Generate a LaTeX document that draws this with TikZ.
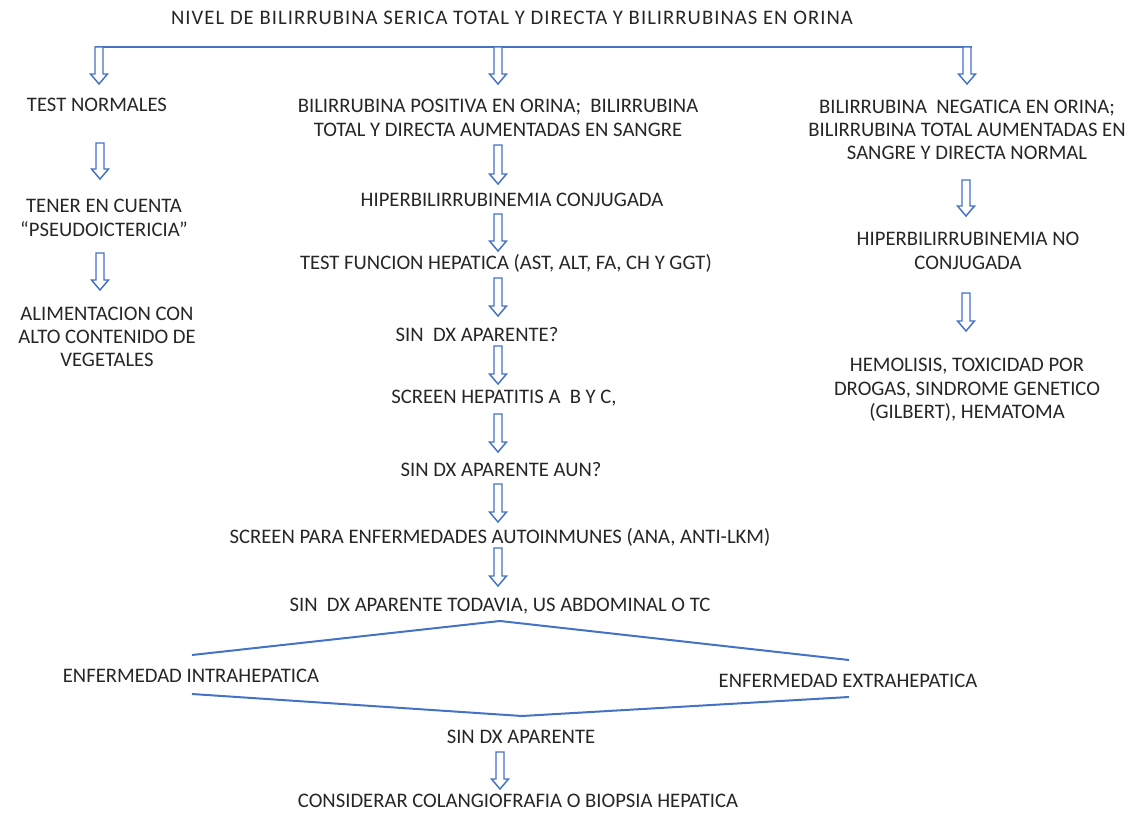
\documentclass[tikz,border=0pt]{standalone}
\usepackage{fontspec}
\setmainfont{Carlito}
\usetikzlibrary{calc}
\definecolor{oblue}{RGB}{68,114,196}
\definecolor{txt}{RGB}{38,38,38}
\tikzset{
  lbl/.style={text=txt, inner sep=0pt, align=center, font=\fontsize{15.5}{17.5}\selectfont},
  link/.style={draw=oblue, line width=1.5pt},
  barrow/.style={draw=oblue, line width=1.1pt, fill=white, line join=miter},
}
\newcommand\blockarrow[2]{%
  \draw[barrow] ($(#1)+(-4,0)$) -- ($(#1)+(4,0)$) -- ($(#2)+(4,-10)$) -- ($(#2)+(8.5,-10)$)
   -- (#2) -- ($(#2)+(-8.5,-10)$) -- ($(#2)+(-4,-10)$) -- cycle;}
\begin{document}
\begin{tikzpicture}[x=0.75pt,y=-0.75pt]
\useasboundingbox (0,0) rectangle (1136,813);
% texts
\node[lbl] (title) at (512,18) {\addfontfeature{LetterSpace=5}NIVEL DE BILIRRUBINA SERICA TOTAL Y DIRECTA Y BILIRRUBINAS EN ORINA};
\node[lbl] (t1) at (97,105) {TEST NORMALES};
\node[lbl] (t2) at (104,218) {TENER EN CUENTA\\“PSEUDOICTERICIA”};
\node[lbl] (t3) at (107,337) {ALIMENTACION CON\\ALTO CONTENIDO DE\\VEGETALES};
\node[lbl] (m1) at (498,118) {BILIRRUBINA POSITIVA EN ORINA;\ \ BILIRRUBINA\\TOTAL Y DIRECTA AUMENTADAS EN SANGRE};
\node[lbl] (m2) at (512,200) {HIPERBILIRRUBINEMIA CONJUGADA};
\node[lbl] (m3) at (506,263) {TEST FUNCION HEPATICA (AST, ALT, FA, CH Y GGT)};
\node[lbl] (m4) at (477,335) {SIN\ \ DX APARENTE?};
\node[lbl] (m5) at (504,398) {SCREEN HEPATITIS A\ \ B Y C,};
\node[lbl] (m6) at (501,470) {SIN DX APARENTE AUN?};
\node[lbl] (m7) at (500,537) {SCREEN PARA ENFERMEDADES AUTOINMUNES (ANA, ANTI-LKM)};
\node[lbl] (m8) at (500,606) {SIN\ \ DX APARENTE TODAVIA, US ABDOMINAL O TC};
\node[lbl] (intra) at (191,676) {ENFERMEDAD INTRAHEPATICA};
\node[lbl] (extra) at (848,681) {ENFERMEDAD EXTRAHEPATICA};
\node[lbl] (m9) at (521,737) {SIN DX APARENTE};
\node[lbl] (m10) at (518,801) {CONSIDERAR COLANGIOFRAFIA O BIOPSIA HEPATICA};
\node[lbl] (r1) at (967,130) {BILIRRUBINA\ \ NEGATICA EN ORINA;\\BILIRRUBINA TOTAL AUMENTADAS EN\\SANGRE Y DIRECTA NORMAL};
\node[lbl] (r2) at (968,251) {HIPERBILIRRUBINEMIA NO\\CONJUGADA};
\node[lbl] (r3) at (967,390) {HEMOLISIS, TOXICIDAD POR\\DROGAS, SINDROME GENETICO\\(GILBERT), HEMATOMA};
% top bracket
\coordinate (bl) at (95,47);
\coordinate (br) at (972,47);
\draw[link] (bl) -- (br);
% arrow coordinates
\coordinate (a1s) at (99,47);  \coordinate (a1e) at (99,84);
\coordinate (a2s) at (498,47); \coordinate (a2e) at (498,84);
\coordinate (a3s) at (967,47); \coordinate (a3e) at (967,84);
\coordinate (l1s) at (100,143); \coordinate (l1e) at (100,179);
\coordinate (l2s) at (100,253); \coordinate (l2e) at (100,290);
\coordinate (c1s) at (498,145); \coordinate (c1e) at (498,184);
\coordinate (c2s) at (498,214); \coordinate (c2e) at (498,251);
\coordinate (c3s) at (498,278); \coordinate (c3e) at (498,316);
\coordinate (c4s) at (498,346); \coordinate (c4e) at (498,384);
\coordinate (c5s) at (498,414); \coordinate (c5e) at (498,452);
\coordinate (c6s) at (498,484); \coordinate (c6e) at (498,522);
\coordinate (c7s) at (498,548); \coordinate (c7e) at (498,586);
\coordinate (c8s) at (500,752); \coordinate (c8e) at (500,789);
\coordinate (r1s) at (966,180); \coordinate (r1e) at (966,216);
\coordinate (r2s) at (966,293); \coordinate (r2e) at (966,331);
\foreach \a in {a1,a2,a3,l1,l2,c1,c2,c3,c4,c5,c6,c7,c8,r1,r2}{\blockarrow{\a s}{\a e}}
% bottom split
\coordinate (ul) at (192,655); \coordinate (ut) at (500,621); \coordinate (ur) at (849,660);
\coordinate (ll) at (192,694); \coordinate (lb) at (522,716); \coordinate (lr) at (849,697);
\draw[link] (ul) -- (ut) -- (ur);
\draw[link] (ll) -- (lb) -- (lr);
\end{tikzpicture}
\end{document}
